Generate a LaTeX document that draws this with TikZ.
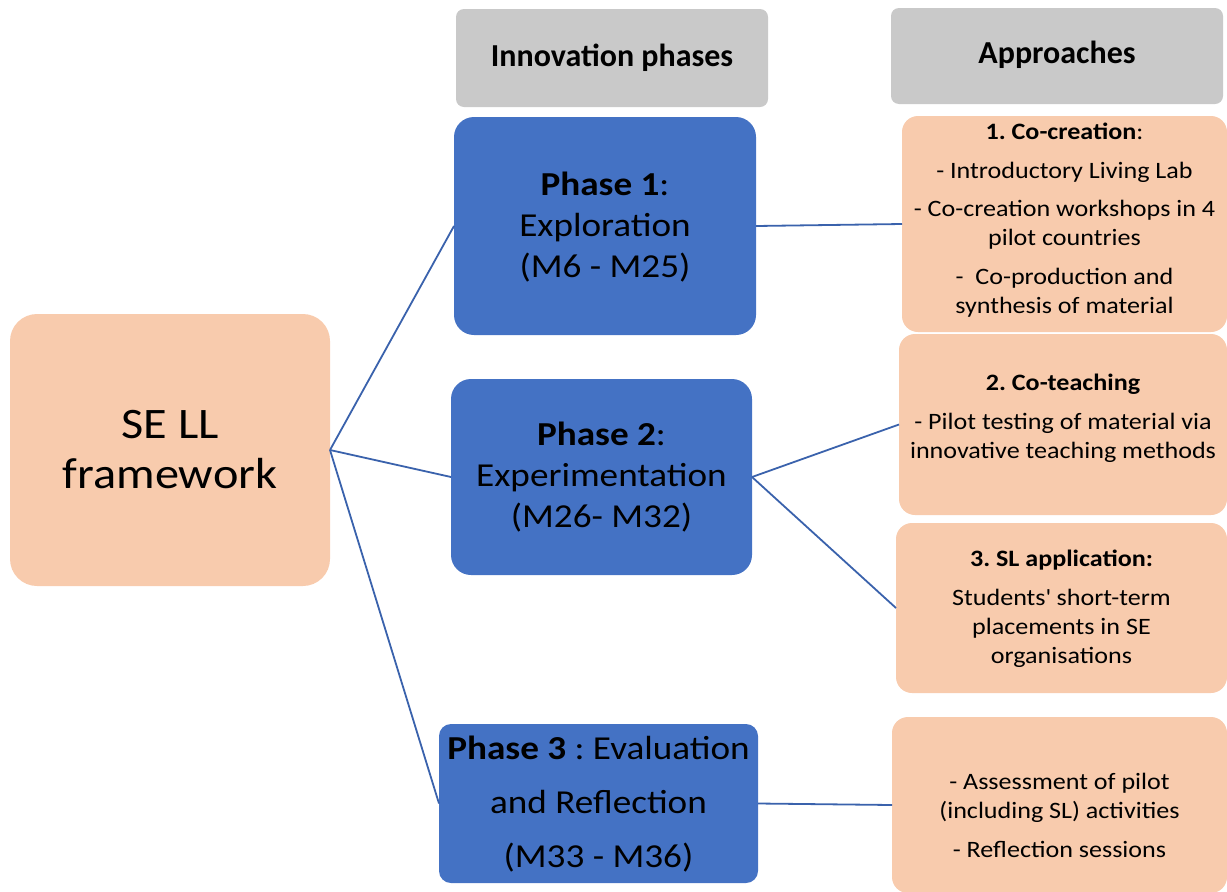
\documentclass[tikz,border=0pt]{standalone}
\usepackage{fontspec}
\setmainfont{Carlito}[FakeStretch=1.11]
\newfontfamily\headfont{Carlito}
\frenchspacing
\definecolor{peach}{HTML}{F8CBAD}
\definecolor{phaseblue}{HTML}{4472C4}
\definecolor{headgray}{HTML}{C9C9C9}
\definecolor{linkblue}{HTML}{3A62AC}
\begin{document}
\begin{tikzpicture}[x=1pt,y=-1pt,
  shapebox/.style={inner sep=0pt, outer sep=0pt},
  peachbox/.style={shapebox, fill=peach, rounded corners=16pt},
  phasebox/.style={shapebox, fill=phaseblue, rounded corners=20pt},
  headbox/.style={shapebox, fill=headgray, rounded corners=8pt},
  link/.style={draw=linkblue, line width=1.8pt},
  txt/.style={align=center, inner sep=0pt, text=black},
  headtxt/.style={txt, font=\headfont\fontsize{32}{38}\selectfont\bfseries},
  phasetxt/.style={txt, font=\fontsize{33.5}{41}\selectfont},
  apptxt/.style={txt, font=\fontsize{23.5}{29}\selectfont}]
\useasboundingbox (0,0) rectangle (1227,892);
\clip (0,0) rectangle (1227,892);

% column headers
\node[headbox, minimum width=312pt, minimum height=98pt] (h1) at (612,58) {};
\node[headbox, minimum width=332pt, minimum height=96pt] (h2) at (1057,56) {};
\node[headtxt] (h1t) at (612,58) {Innovation phases};
\node[headtxt] (h2t) at (1057,55) {Approaches};

% root
\node[peachbox, rounded corners=27pt, minimum width=320pt, minimum height=272pt] (se) at (170,450) {};
\node[txt, font=\fontsize{43.5}{50}\selectfont] (set) at (170,450) {SE LL\\framework};

% phases
\node[phasebox, minimum width=302pt, minimum height=218pt] (p1) at (605,226) {};
\node[phasebox, minimum width=301pt, minimum height=196pt] (p2) at (601.5,477) {};
\node[phasebox, rounded corners=12pt, minimum width=319pt, minimum height=159pt] (p3) at (598.5,803.5) {};
\node[phasetxt] (p1t) at (605,227) {\textbf{Phase 1}:\\Exploration\\(M6 - M25)};
\node[phasetxt] (p2t) at (601.5,477.5) {\textbf{Phase 2}:\\Experimentation\\(M26- M32)};
\node[phasetxt, font=\fontsize{33.5}{54}\selectfont] (p3t) at (598.5,804) {\textbf{Phase 3} : Evaluation\\and Reflection\\(M33 - M36)};

% approaches
\node[peachbox, minimum width=325pt, minimum height=216pt] (a1) at (1064.5,224) {};
\node[peachbox, minimum width=328pt, minimum height=181pt] (a2) at (1063,424.5) {};
\node[peachbox, minimum width=331pt, minimum height=170pt] (a3) at (1061.5,608) {};
\node[peachbox, minimum width=335pt, minimum height=176pt] (a4) at (1059.5,805) {};
\node[apptxt] (a1t) at (1064.5,220.5) {\textbf{1. Co-creation}:\\[10pt]- Introductory Living Lab\\[9pt]- Co-creation workshops in 4\\pilot countries\\[10pt]-\ \ Co-production and\\synthesis of material};
\node[apptxt] (a2t) at (1063,418) {\textbf{2. Co-teaching}\\[10pt]- Pilot testing of material via\\innovative teaching methods};
\node[apptxt] (a3t) at (1061.5,608.5) {\textbf{3. SL application:}\\[10pt]Students\textquotesingle{} short-term\\placements in SE\\organisations};
\node[apptxt] (a4t) at (1059.5,815) {- Assessment of pilot\\(including SL) activities\\[10pt]- Reflection sessions};

% connectors
\draw[link] (se.east) -- (p1.west);
\draw[link] (se.east) -- (p2.west);
\draw[link] (se.east) -- (p3.west);
\draw[link] (p1.east) -- (a1.west);
\draw[link] (p2.east) -- (a2.west);
\draw[link] (p2.east) -- (a3.west);
\draw[link] (p3.east) -- (a4.west);
\end{tikzpicture}
\end{document}
